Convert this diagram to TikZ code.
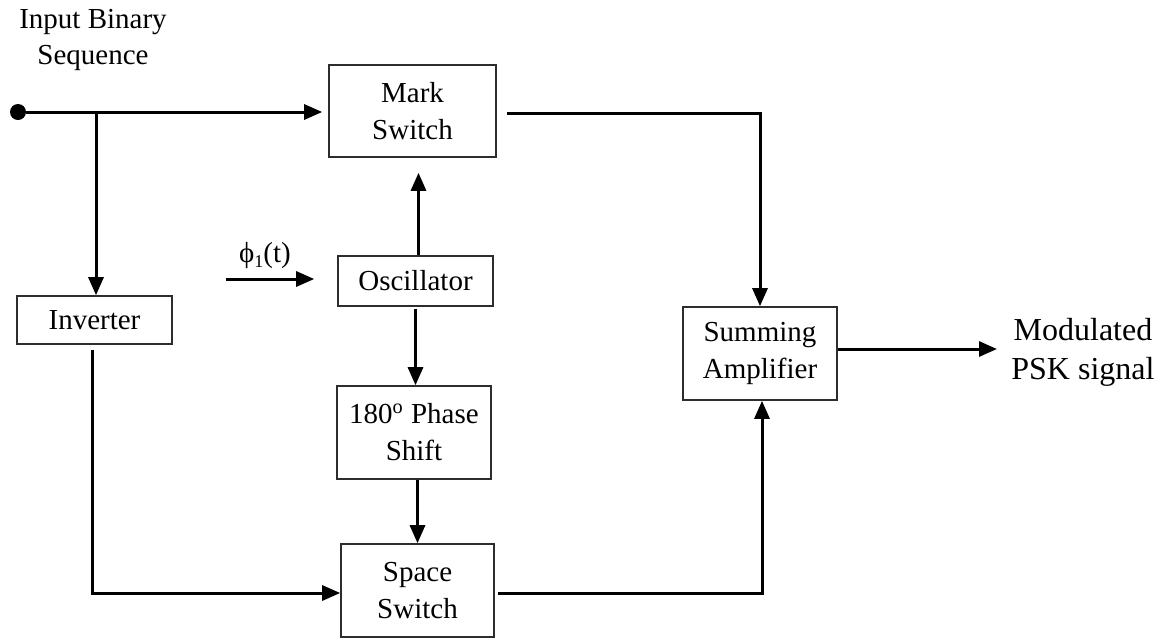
\documentclass[tikz,border=0pt]{standalone}
\usepackage{fontspec}
\setmainfont{Liberation Serif}
\usetikzlibrary{arrows.meta}
\definecolor{figline}{RGB}{0,0,0}
\definecolor{figbox}{RGB}{45,45,45}
\tikzset{
  blk/.style  ={draw=figbox, line width=0.8pt, inner sep=0pt, align=center, font=\fontsize{14.5}{18.5}\selectfont},
  wr/.style   ={draw=figline, line width=1.5pt},
  ar/.style   ={wr, -{Triangle[length=9pt,width=7.5pt]}},
  lab/.style  ={inner sep=0pt, align=center, font=\fontsize{14.5}{18}\selectfont},
  labl/.style ={inner sep=0pt, align=center, font=\fontsize{16}{19.5}\selectfont},
}

\begin{document}
\begin{tikzpicture}[x=0.5pt,y=-0.5pt]
  \useasboundingbox (0,0) rectangle (1158,639);
  % blocks
  \node[blk, minimum width=83.5pt, minimum height=46pt]   (mark)  at (412.5,111) {Mark\\Switch};
  \node[blk, minimum width=77.5pt, minimum height=25pt]   (osc)   at (415.5,281) {Oscillator};
  \node[blk, minimum width=77pt,   minimum height=46.5pt] (phase) at (414,432.5) {180\textsuperscript{o} Phase\\Shift};
  \node[blk, minimum width=76.5pt, minimum height=46.5pt] (space) at (417.5,590.5) {Space\\Switch};
  \node[blk, minimum width=77.5pt, minimum height=24pt]   (inv)   at (94.5,320) {Inverter};
  \node[blk, minimum width=77pt,   minimum height=46.5pt] (sum)   at (760,353.5) {Summing\\Amplifier};
  % texts
  \node[lab] (inl) at (93,40) {Input Binary\\Sequence};
  \node[lab] (phil) at (265,256) {ϕ\raisebox{-0.35ex}{\fontsize{9}{9}\selectfont 1}(t)};
  \node[labl, anchor=west] (out) at (1011,352) {Modulated\\PSK signal};
  \node[circle, fill=figline, inner sep=0pt, minimum size=8pt] (in) at (18,112) {};
  \coordinate (br) at (96,112);
  \coordinate (phin) at (226,279);
  % connectors
  \draw[ar, shorten >=3pt] (in) -- (in -| mark.west);
  \draw[ar] (br) -- (br |- inv.north);
  \draw[ar, shorten >=11.5pt] (phin) -- (phin -| osc.west);
  \draw[ar, shorten >=7.5pt] ([xshift=1.5pt]osc.north) -- ([xshift=1.5pt]osc.north |- mark.south);
  \draw[ar, shorten <=1pt] ([xshift=0.75pt]phase.north |- osc.south) -- ([xshift=0.75pt]phase.north);
  \draw[ar] (phase.south -| space.north) -- (space.north);
  \draw[ar, shorten <=5pt] ([yshift=-1pt]mark.east) -| (sum.north);
  \draw[ar, shorten <=2.5pt] ([xshift=-1.25pt]inv.south) |- ([yshift=-1.25pt]space.west);
  \draw[ar, shorten <=1.5pt] ([yshift=-1.25pt]space.east) -| ([xshift=1pt]sum.south);
  \draw[ar, shorten >=7pt] ([yshift=2.25pt]sum.east) -- ([yshift=2.25pt]sum.east -| out.west);
\end{tikzpicture}
\end{document}
